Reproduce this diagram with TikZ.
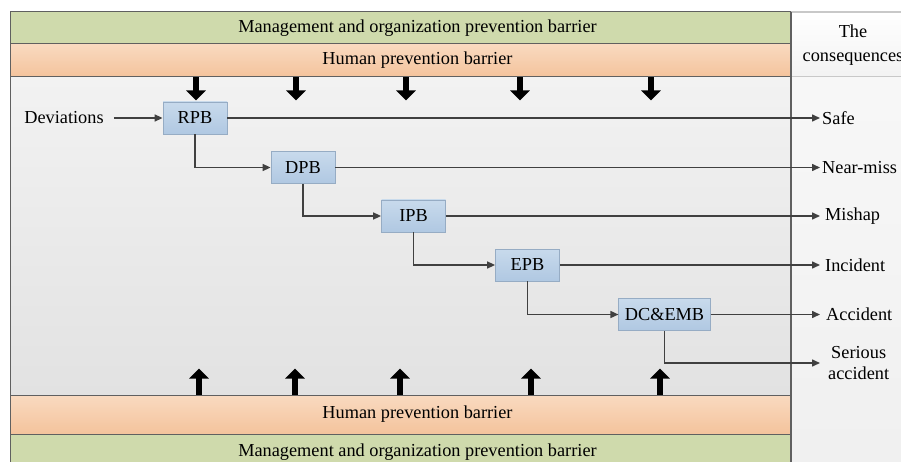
\documentclass[tikz,border=0pt]{standalone}
\usepackage{fontspec}
\setmainfont{Liberation Serif}
\usetikzlibrary{arrows.meta, positioning}

\definecolor{mgtgreen}{RGB}{207,218,172}
\definecolor{humtop}{RGB}{249,218,192}
\definecolor{humbot}{RGB}{244,195,156}
\definecolor{paneltop}{RGB}{242,242,242}
\definecolor{panelbot}{RGB}{226,226,226}
\definecolor{boxtop}{RGB}{200,218,236}
\definecolor{boxbot}{RGB}{176,200,226}
\definecolor{boxline}{RGB}{150,172,196}
\definecolor{linegray}{RGB}{64,64,64}
\definecolor{framegray}{RGB}{96,96,96}
\definecolor{colline}{RGB}{200,200,200}

\begin{document}
\begin{tikzpicture}[x=1pt, y=-1pt,
    every node/.style={font=\fontsize{18.3}{21}\selectfont},
    % Styles
    band/.style={
        rectangle,
        draw=framegray,
        line width=1pt,
        minimum width=815pt,
        inner sep=0pt
    },
    mgtband/.style={band, fill=mgtgreen},
    humband/.style={band, top color=humtop, bottom color=humbot},
    barrier/.style={
        rectangle,
        draw=boxline,
        line width=0.8pt,
        top color=boxtop,
        bottom color=boxbot,
        minimum width=64pt,
        minimum height=32pt,
        inner sep=6pt
    },
    flow/.style={draw=linegray, line width=1.5pt, -{Triangle[length=8pt, width=7pt]}},
    pusharrow/.style={line width=6pt, -{Triangle[length=10pt, width=19pt]}},
    outcome/.style={anchor=west, inner sep=2pt, align=center}
]
\useasboundingbox (0,0) rectangle (901,462);

% Barrier bands
\node[mgtband, minimum height=32pt] (mgttop) at (417.5,28) {Management and organization prevention barrier};
\node[humband, minimum height=33pt] (humtop) at (417.5,60.5) {Human prevention barrier};
\node[band, minimum height=318pt, top color=paneltop, bottom color=panelbot] (panel) at (417.5,236) {};
\node[humband, minimum height=39pt] (humbot) at (417.5,414.5) {Human prevention barrier};
\node[mgtband, minimum height=36pt] (mgtbot) at (417.5,452) {Management and organization prevention barrier};

% Consequences column
\fill[top color=white, bottom color=black!5, draw=colline] (791,12) rectangle (905,77);
\fill[top color=black!3, bottom color=black!6] (791,77) rectangle (905,470);
\draw[colline, line width=1pt] (791,77) -- (905,77);
\draw[colline, line width=1pt] (791,12) -- (905,12);
\draw[framegray, line width=1.2pt] (791,12) -- (791,470);
\node[align=center] (conshead) at (853,45) {The\\[3pt]consequences};

% Barrier boxes
\node (dev) at (64,118) [inner sep=10pt] {Deviations};
\node[barrier] (rpb) at (195,118) {RPB};
\node[barrier] (dpb) at (303,167.5) {DPB};
\node[barrier] (ipb) at (413.5,216) {IPB};
\node[barrier] (epb) at (527.5,265) {EPB};
\node[barrier] (dcemb) at (664.5,314.5) {DC\&EMB};

% Outcomes
\node[outcome] (safe) at (820,118) {Safe};
\node[outcome] (nearmiss) at (820,167.5) {Near-miss};
\node[outcome, inner sep=5pt] (mishap) at (820,216) {Mishap};
\node[outcome, inner sep=5pt] (incident) at (820,265) {Incident};
\node[outcome, inner sep=6pt] (accident) at (820,314.5) {Accident};
\node[outcome, inner sep=8pt] (serious) at (820,363) {Serious\\accident};

% Connectors
\draw[flow] (dev.east) -- (rpb.west);
\draw[flow] (rpb.east) -- (safe.west);
\draw[flow] (dpb.east) -- (nearmiss.west);
\draw[flow] (ipb.east) -- (mishap.west);
\draw[flow] (epb.east) -- (incident.west);
\draw[flow] (dcemb.east) -- (accident.west);
\draw[flow] (rpb.south) |- (dpb.west);
\draw[flow] (dpb.south) |- (ipb.west);
\draw[flow] (ipb.south) |- (epb.west);
\draw[flow] (epb.south) |- (dcemb.west);
\draw[flow] (dcemb.south) |- (serious.west);

% Pressure of the barriers
\foreach \x in {196,296,406,520,651} {
    \coordinate (dn) at (humtop.south -| \x,0);
    \draw[pusharrow] (dn) -- ++(0,23);
}
\foreach \x in {199,295,400,531,660} {
    \coordinate (up) at (humbot.north -| \x,0);
    \draw[pusharrow] (up) -- ++(0,-26);
}

\end{tikzpicture}
\end{document}
